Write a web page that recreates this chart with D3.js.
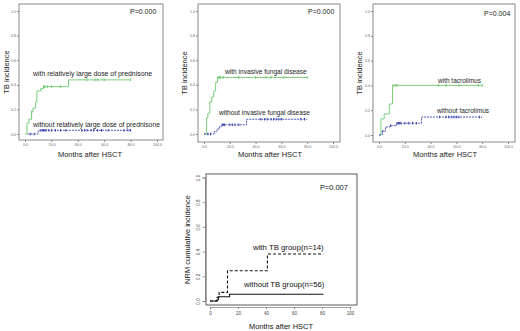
<!DOCTYPE html>
<html>
<head>
<meta charset="utf-8">
<script src="https://cdn.jsdelivr.net/npm/d3@7"></script>
<style>
  body { margin: 0; background: #fff; }
  svg { display: block; font-family: Arial, "Liberation Sans", sans-serif; }
</style>
</head>
<body>
<script>
const width = 520, height = 331;

// cumulative incidence steps: [months, incidence]
const predWith = [[0,0],[1.5,0.09],[3,0.12],[5,0.18],[6,0.21],[8,0.26],[9,0.35],[12,0.37],[14,0.385],[33,0.44],[80,0.44]];
const predWithCens = [5,14,15,17,20,27,47,53,55,60,80];
const predWithout = [[2,0],[10,0.03],[80,0.03]];
const predWithoutCens = [4,7,12,13,14,15,16,18,20,23,27,31,43,45,47,50,52,55,58,63,75,78,80];

const fungWith = [[0,0],[2,0.13],[3,0.17],[4.5,0.26],[6,0.3],[7.5,0.35],[9,0.42],[10.5,0.46],[80,0.46]];
const fungWithCens = [11,12,13,15,27,40,48,52,62,80];
const fungWithout = [[0,0],[8,0.02],[10,0.04],[12,0.06],[13.5,0.075],[33,0.12],[80,0.12]];
const fungWithoutCens = [3,5,14,15,16,20,22,24,27,44,47,49,52,54,56,58,60,75,78];

const tacWith = [[0,0],[1.5,0.13],[4,0.17],[8,0.25],[10.5,0.4],[80,0.4]];
const tacWithCens = [11,13,14,46,52,62,77,80];
const tacWithout = [[0,0],[2.5,0.03],[5,0.065],[8.5,0.075],[13.5,0.095],[33,0.145],[80,0.145]];
const tacWithoutCens = [3,9,14,15,16,17,20,23,26,29,47,52,54,56,58,60,62,78];

const nrmWith = [[0,0],[5,0.03],[6.5,0.07],[12.5,0.245],[41,0.38],[81,0.38]];
const nrmWithout = [[0,0],[5,0.01],[6,0.035],[14,0.055],[81,0.055]];

const yTicks = [0, 0.2, 0.4, 0.6, 0.8, 1.0];
const xTicks = [0, 20, 40, 60, 80, 100];

const svg = d3.select("body").append("svg")
    .attr("width", width)
    .attr("height", height);

const green = "#6cc86c", blue = "#3a46b4";

// SPSS-style panels (top row)
const spssPanels = [
    {
        box: [19, 4, 163, 140], x0: 25, x1: 157, y0: 134, y1: 11,
        pval: { t: "P=0.000", x: 130, y: 14 },
        yTitleX: 6, xTitleX: 90,
        series: [
            { data: predWith, cens: predWithCens, color: green, dash: null },
            { data: predWithout, cens: predWithoutCens, color: blue, dash: "2,1" }
        ],
        labels: [
            { t: "with relatively large dose of prednisone", x: 33, y: 76, fs: 6.9 },
            { t: "without relatively large dose of prednisone", x: 33, y: 127, fs: 6.8 }
        ]
    },
    {
        box: [198, 4, 340, 142], x0: 204, x1: 333, y0: 134, y1: 11,
        pval: { t: "P=0.000", x: 308, y: 14 },
        yTitleX: 184, xTitleX: 270,
        series: [
            { data: fungWith, cens: fungWithCens, color: green, dash: null },
            { data: fungWithout, cens: fungWithoutCens, color: blue, dash: "2,1" }
        ],
        labels: [
            { t: "with invasive fungal disease", x: 225, y: 74, fs: 6.6 },
            { t: "without invasive fungal disease", x: 219, y: 115, fs: 6.6 }
        ]
    },
    {
        box: [373, 4, 515, 142], x0: 379, x1: 508, y0: 135, y1: 11,
        pval: { t: "P=0.004", x: 484, y: 16 },
        yTitleX: 359, xTitleX: 445,
        series: [
            { data: tacWith, cens: tacWithCens, color: green, dash: null },
            { data: tacWithout, cens: tacWithoutCens, color: blue, dash: "2,1" }
        ],
        labels: [
            { t: "with tacrolimus", x: 438, y: 83, fs: 6.5 },
            { t: "without tacrolimus", x: 437, y: 113, fs: 6.5 }
        ]
    }
];

spssPanels.forEach(p => {
    const g = svg.append("g");
    const x = d3.scaleLinear().domain([0, 100]).range([p.x0, p.x1]);
    const y = d3.scaleLinear().domain([0, 1]).range([p.y0, p.y1]);
    const [bx0, by0, bx1, by1] = p.box;

    g.append("rect")
        .attr("x", bx0).attr("y", by0)
        .attr("width", bx1 - bx0).attr("height", by1 - by0)
        .attr("fill", "none").attr("stroke", "#8a8a8a").attr("stroke-width", 1);

    // tick marks sit on the frame
    const yAxis = d3.axisLeft(y).tickValues(yTicks).tickFormat(d3.format(".1f")).tickSize(2).tickPadding(1);
    const ya = g.append("g").attr("transform", `translate(${bx0},0)`).call(yAxis);
    const xAxis = d3.axisBottom(x).tickValues(xTicks).tickFormat(d3.format(".1f")).tickSize(2).tickPadding(1);
    const xa = g.append("g").attr("transform", `translate(0,${by1})`).call(xAxis);
    [ya, xa].forEach(a => {
        a.select(".domain").remove();
        a.selectAll("line").attr("stroke", "#888");
        a.selectAll("text").attr("font-size", 3.6).attr("fill", "#666");
    });

    const line = d3.line().x(d => x(d[0])).y(d => y(d[1])).curve(d3.curveStepAfter);
    p.series.forEach(s => {
        g.append("path").datum(s.data)
            .attr("d", line)
            .attr("fill", "none")
            .attr("stroke", s.color)
            .attr("stroke-width", 0.9)
            .attr("stroke-dasharray", s.dash);
        // censoring marks
        const stepAt = t => { let v = 0; s.data.forEach(d => { if (d[0] <= t) v = d[1]; }); return v; };
        g.selectAll(null).data(s.cens).enter().append("line")
            .attr("x1", d => x(d)).attr("x2", d => x(d))
            .attr("y1", d => y(stepAt(d)) - 1.3).attr("y2", d => y(stepAt(d)) + 1.3)
            .attr("stroke", s.color).attr("stroke-width", 1);
    });

    g.append("text").attr("x", p.pval.x).attr("y", p.pval.y)
        .attr("font-size", 7).attr("fill", "#222").text(p.pval.t);
    p.labels.forEach(l => {
        g.append("text").attr("x", l.x).attr("y", l.y)
            .attr("font-size", l.fs).attr("fill", "#222").text(l.t);
    });
    g.append("text")
        .attr("transform", `translate(${p.yTitleX + 3},${(by0 + by1) / 2}) rotate(-90)`)
        .attr("text-anchor", "middle").attr("font-size", 7.5).attr("fill", "#222")
        .text("TB incidence");
    g.append("text").attr("x", p.xTitleX).attr("y", 157)
        .attr("text-anchor", "middle").attr("font-size", 7.5).attr("fill", "#222")
        .text("Months after HSCT");
});

// R-style bottom panel
{
    const g = svg.append("g");
    const x = d3.scaleLinear().domain([0, 100]).range([210, 350]);
    const y = d3.scaleLinear().domain([0, 1]).range([301, 177.5]);
    const bx0 = 206, by0 = 174, bx1 = 357, by1 = 305;

    g.append("rect")
        .attr("x", bx0).attr("y", by0)
        .attr("width", bx1 - bx0).attr("height", by1 - by0)
        .attr("fill", "none").attr("stroke", "#333").attr("stroke-width", 0.8);

    const yAxis = d3.axisLeft(y).tickValues(yTicks).tickFormat(d3.format(".1f")).tickSize(2.5).tickPadding(2);
    const ya = g.append("g").attr("transform", `translate(${bx0 - 1},0)`).call(yAxis);
    const xAxis = d3.axisBottom(x).tickValues(xTicks).tickFormat(d3.format("d")).tickSize(2.5).tickPadding(2);
    const xa = g.append("g").attr("transform", `translate(0,${by1 + 2})`).call(xAxis);
    [ya, xa].forEach(a => {
        a.select(".domain").attr("stroke", "#666").attr("stroke-width", 0.6);
        a.selectAll("line").attr("stroke", "#666").attr("stroke-width", 0.6);
        a.selectAll("text").attr("font-size", 4.5).attr("fill", "#444");
    });
    // R draws y labels parallel to the axis
    ya.selectAll(".tick text")
        .attr("x", 0).attr("dy", 0)
        .attr("text-anchor", "middle")
        .attr("transform", "translate(-5,0) rotate(-90)");

    const line = d3.line().x(d => x(d[0])).y(d => y(d[1])).curve(d3.curveStepAfter);
    g.append("path").datum(nrmWith).attr("d", line)
        .attr("fill", "none").attr("stroke", "#111").attr("stroke-width", 1.1)
        .attr("stroke-dasharray", "3,2");
    g.append("path").datum(nrmWithout).attr("d", line)
        .attr("fill", "none").attr("stroke", "#111").attr("stroke-width", 1.1);

    g.append("text").attr("x", 320).attr("y", 190)
        .attr("font-size", 7.4).attr("fill", "#111").text("P=0.007");
    g.append("text").attr("x", 253).attr("y", 250)
        .attr("font-size", 7.8).attr("fill", "#111").text("with TB group(n=14)");
    g.append("text").attr("x", 244).attr("y", 287)
        .attr("font-size", 7.7).attr("fill", "#111").text("without TB group(n=56)");
    g.append("text")
        .attr("transform", `translate(190,${(by0 + by1) / 2}) rotate(-90)`)
        .attr("text-anchor", "middle").attr("font-size", 7.5).attr("fill", "#111")
        .text("NRM cumulative incidence");
    g.append("text").attr("x", 281).attr("y", 329)
        .attr("text-anchor", "middle").attr("font-size", 7.5).attr("fill", "#111")
        .text("Months after HSCT");
}
</script>
</body>
</html>
